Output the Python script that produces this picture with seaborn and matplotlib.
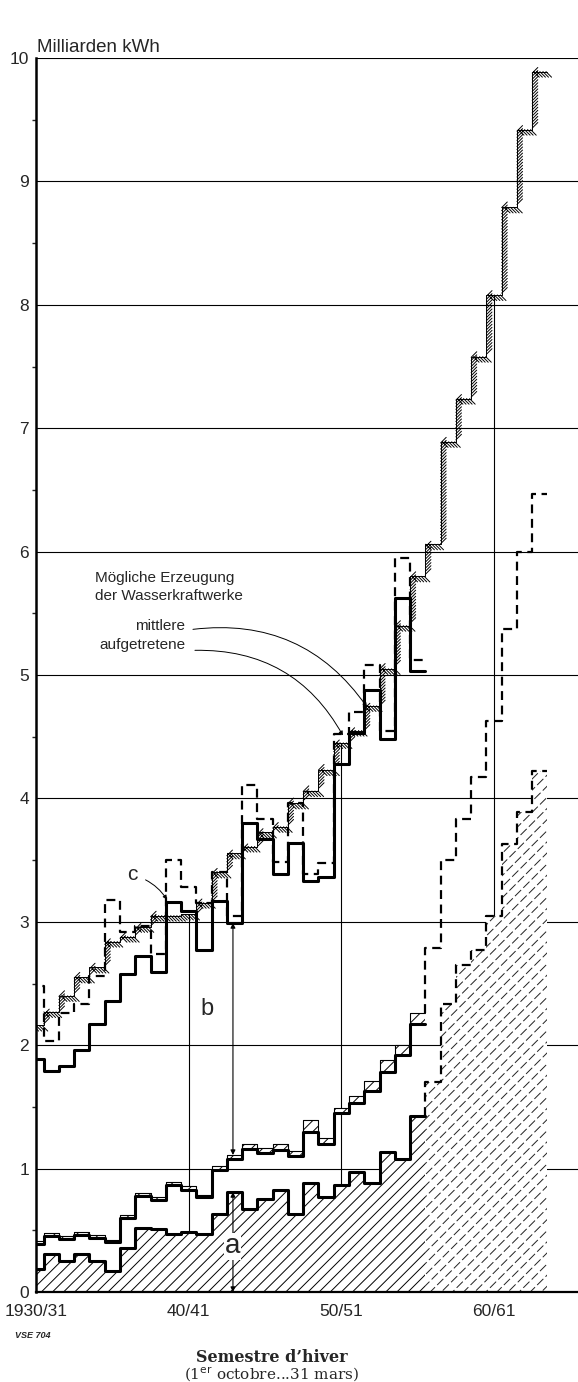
import numpy as np
import matplotlib.pyplot as plt
import matplotlib.patheffects as pe
import seaborn as sns

# winter semesters 1930/31 .. 1963/64, counted from 1930/31
years = np.arange(34)
n_actual = 26  # recorded up to 1955/56, forecast afterwards

# lower hatched area "a" (Milliarden kWh)
a_vals = [0.19, 0.31, 0.25, 0.31, 0.25, 0.17, 0.36, 0.52, 0.51, 0.47,
          0.49, 0.47, 0.63, 0.81, 0.67, 0.75, 0.83, 0.63, 0.885, 0.77,
          0.87, 0.97, 0.88, 1.135, 1.075, 1.43, 1.70, 2.33, 2.65, 2.77,
          3.05, 3.63, 3.89, 4.22]
# middle curve with narrow hatched band, then forecast (dashed)
mid_low = [0.39, 0.45, 0.43, 0.465, 0.44, 0.405, 0.60, 0.78, 0.745, 0.87,
           0.83, 0.77, 0.985, 1.08, 1.16, 1.13, 1.15, 1.10, 1.30, 1.20,
           1.45, 1.53, 1.63, 1.78, 1.92, 2.17]
mid_top = [0.41, 0.48, 0.455, 0.49, 0.465, 0.425, 0.62, 0.80, 0.77, 0.89,
           0.855, 0.79, 1.02, 1.11, 1.20, 1.17, 1.20, 1.14, 1.39, 1.245,
           1.49, 1.59, 1.71, 1.88, 2.00, 2.26]
mid_forecast = [2.79, 3.50, 3.83, 4.17, 4.63, 5.37, 6.00, 6.47]
# possible production of the hydro plants: occurred and mean
hydro_actual = [1.89, 1.79, 1.83, 1.965, 2.17, 2.36, 2.58, 2.72, 2.59, 3.16,
                3.09, 2.77, 3.165, 2.99, 3.80, 3.67, 3.39, 3.64, 3.33, 3.36,
                4.28, 4.53, 4.88, 4.48, 5.62, 5.03]
hydro_mean = [2.48, 2.035, 2.26, 2.335, 2.56, 3.18, 2.92, 2.97, 2.74, 3.50,
              3.28, 3.155, 3.40, 3.05, 4.11, 3.83, 3.485, 3.96, 3.39, 3.475,
              4.52, 4.70, 5.08, 4.55, 5.95, 5.12]
# upper hatched curve "c"
c_vals = [2.16, 2.27, 2.40, 2.55, 2.63, 2.84, 2.88, 2.96, 3.05, 3.05,
          3.06, 3.155, 3.40, 3.555, 3.61, 3.725, 3.77, 3.96, 4.06, 4.23,
          4.45, 4.55, 4.75, 5.05, 5.40, 5.80, 6.06, 6.89, 7.24, 7.58,
          8.08, 8.79, 9.42, 9.89]

grid_years = [10, 20, 30]
xtick_pos = [0, 10, 20, 30]
xtick_labels = ['1930/31', '40/41', '50/51', '60/61']
arrow_year = 12.9


def stairs(start, vals, lead=None):
  # edges and values for a steps-post line, one full step per winter
  vals = np.asarray(vals, dtype=float)
  x = start - 0.5 + np.arange(len(vals) + 1)
  y = np.append(vals, vals[-1])
  if lead is not None:
    x = np.insert(x, 0, x[0])
    y = np.insert(y, 0, lead)
  return x, y


def stepLine(ax, x, y, **kw):
  sns.lineplot(x=x, y=y, ax=ax, estimator=None, sort=False,
               drawstyle='steps-post', color='black', **kw)


sns.set_style('white')
plt.rcParams['font.family'] = ['Liberation Sans', 'DejaVu Sans']
plt.rcParams['hatch.linewidth'] = 0.7

fig = plt.figure(figsize=(5.78, 13.82), dpi=100)
ax = fig.add_axes([36/578, 90/1382, 542/578, 1234/1382])

# grid
for v in range(1, 11):
  ax.axhline(v, color='black', linewidth=0.8, zorder=1)
ax.vlines(grid_years, 0, np.asarray(c_vals)[grid_years], color='black',
          linewidth=0.8, zorder=1)

# area a, recorded and forecast
xa, ya = stairs(0, a_vals[:n_actual])
ax.fill_between(xa, 0, ya, step='post', facecolor='white', edgecolor='black',
                hatch='///', linewidth=0, zorder=2)
xaf, yaf = stairs(n_actual, a_vals[n_actual:])
ax.fill_between(xaf, 0, yaf, step='post', facecolor='white', edgecolor='#222222',
                hatch='///', linewidth=0, zorder=2)
cut = ax.fill_between(xaf, 0, yaf, step='post', facecolor='none',
                      edgecolor='white', hatch='\\\\', linewidth=0, zorder=2)
if hasattr(cut, 'set_hatch_linewidth'):
  cut.set_hatch_linewidth(2.2)
stepLine(ax, xa, ya, linewidth=2.2)
xl, yl = stairs(n_actual, a_vals[n_actual:], lead=a_vals[n_actual - 1])
stepLine(ax, xl, yl, linewidth=1.6, linestyle=(0, (4, 2.5)))

# middle band
xm, ym = stairs(0, mid_low)
_, yt = stairs(0, mid_top)
ax.fill_between(xm, ym, yt, step='post', facecolor='white', edgecolor='black',
                hatch='///', linewidth=0, zorder=2)
stepLine(ax, xm, ym, linewidth=2.2)
stepLine(ax, xm, yt, linewidth=0.8)
xmf, ymf = stairs(n_actual, mid_forecast, lead=mid_top[-1])
stepLine(ax, xmf, ymf, linewidth=1.6, linestyle=(0, (4, 2.5)))

# upper curves
xc, yc = stairs(0, c_vals)
stepLine(ax, xc, yc, linewidth=0.7,
         path_effects=[pe.Normal(),
                       pe.TickedStroke(spacing=2.2, angle=-45, length=2.6,
                                       linewidth=0.7)])
xh, yh = stairs(0, hydro_mean)
stepLine(ax, xh, yh, linewidth=1.6, linestyle=(0, (4, 2.5)))
xh, yh = stairs(0, hydro_actual)
stepLine(ax, xh, yh, linewidth=2.2)

# a and b markers
arrow = dict(arrowstyle='<|-|>', lw=0.8, mutation_scale=7, color='black',
             shrinkA=0, shrinkB=0)
ax.annotate('', xy=(arrow_year, a_vals[13]), xytext=(arrow_year, 0),
            arrowprops=arrow)
ax.annotate('', xy=(arrow_year, hydro_actual[13]), xytext=(arrow_year, mid_top[13]),
            arrowprops=arrow)
ax.text(arrow_year, 0.37, 'a', fontsize=20, ha='center', va='center',
        bbox=dict(facecolor='white', edgecolor='none', pad=0.5), zorder=5)
ax.text(11.2, 2.29, 'b', fontsize=17, ha='center', va='center')
ax.annotate('c', xy=(8.58, 3.18), xytext=(6.29, 3.38), fontsize=15,
            ha='center', va='center',
            arrowprops=dict(arrowstyle='-|>', lw=0.7, mutation_scale=6,
                            color='black', connectionstyle='arc3,rad=-0.2',
                            shrinkA=4, shrinkB=0))

# legend texts
ax.text(3.86, 5.79, 'Mögliche Erzeugung', fontsize=11, ha='left', va='center')
ax.text(3.86, 5.64, 'der Wasserkraftwerke', fontsize=11, ha='left', va='center')
ax.text(9.76, 5.40, 'mittlere', fontsize=11, ha='right', va='center')
ax.text(9.76, 5.24, 'aufgetretene', fontsize=11, ha='right', va='center')
curve = dict(arrowstyle='-|>', lw=0.7, mutation_scale=6, color='black',
             connectionstyle='arc3,rad=-0.3', shrinkA=0, shrinkB=0)
ax.annotate('', xy=(21.68, 4.74), xytext=(10.28, 5.37), arrowprops=curve)
ax.annotate('', xy=(20.1, 4.51), xytext=(10.41, 5.20), arrowprops=curve)

# axes
ax.set_xlim(0, 35.5)
ax.set_ylim(0, 10)
ax.set_xticks(xtick_pos, xtick_labels)
ax.set_yticks(range(11))
ax.set_yticks(np.arange(0.5, 10, 1), minor=True)
ax.tick_params(axis='both', which='major', labelsize=12.5, direction='out',
               length=4, width=1.2, color='black')
ax.tick_params(axis='y', which='major', pad=1)
ax.tick_params(axis='x', which='major', pad=5)
ax.tick_params(axis='y', which='minor', length=3, width=1, left=True)
ax.set_xlabel('')
ax.set_ylabel('')
for side in ['top', 'right']:
  ax.spines[side].set_visible(False)
ax.spines['left'].set_linewidth(1.8)
ax.spines['bottom'].set_linewidth(1.6)
ax.spines['left'].set_color('black')
ax.spines['bottom'].set_color('black')

fig.text(37/578, 1 - 47/1382, 'Milliarden kWh', fontsize=13.5, ha='left',
         va='center')
fig.text(15/578, 1 - 1335/1382, 'VSE 704', fontsize=6.5, style='italic',
         weight='bold', ha='left', va='center')
fig.text(272/578, 1 - 1358/1382, 'Semestre d\u2019hiver', fontsize=11.5,
         family='DejaVu Serif', weight='bold', ha='center', va='center')
fig.text(272/578, 1 - 1374/1382, '(1$^{\\rm er}$ octobre...31 mars)', fontsize=11,
         family='DejaVu Serif', ha='center', va='center')

fig.savefig('out.png', dpi=100)
